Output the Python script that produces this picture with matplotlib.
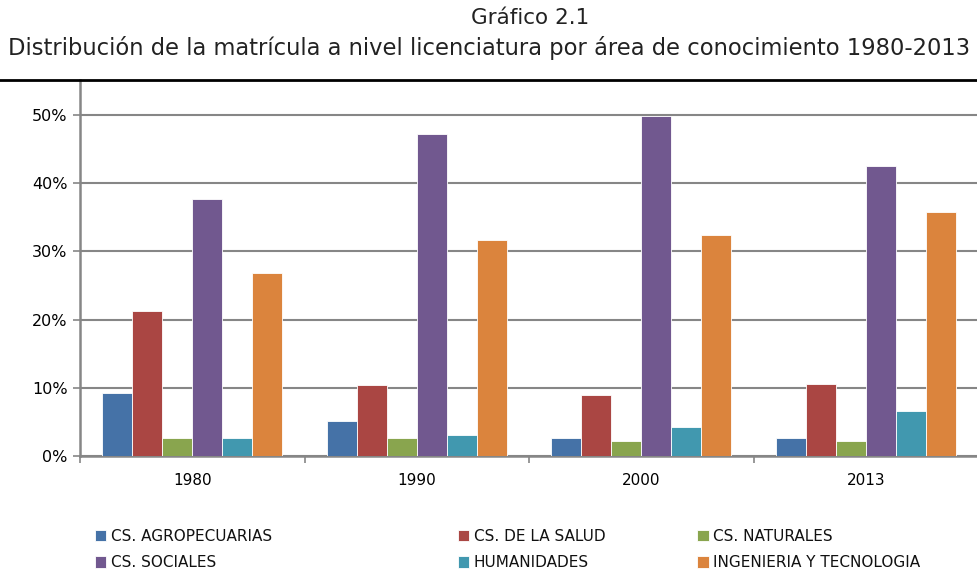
import numpy as np
import matplotlib.pyplot as plt
from matplotlib.lines import Line2D
from matplotlib.ticker import PercentFormatter

years = ["1980", "1990", "2000", "2013"]
areas = ["CS. AGROPECUARIAS", "CS. DE LA SALUD", "CS. NATURALES",
         "CS. SOCIALES", "HUMANIDADES", "INGENIERIA Y TECNOLOGIA"]
agropecuarias = [9.2, 5.2, 2.6, 2.6]
salud = [21.3, 10.4, 8.9, 10.6]
naturales = [2.6, 2.6, 2.2, 2.2]
sociales = [37.7, 47.2, 49.8, 42.5]
humanidades = [2.6, 3.1, 4.3, 6.6]
ingenieria = [26.8, 31.7, 32.4, 35.7]
colors = ["#4572A7", "#AA4643", "#89A54E", "#71588F", "#4198AF", "#DB843D"]

series = [agropecuarias, salud, naturales, sociales, humanidades, ingenieria]

fig = plt.figure(figsize=(9.78, 5.86), dpi=100)
ax = fig.add_axes([0.0818, 0.2218, 0.9182, 0.6417])

x = np.arange(len(years))
w = 0.8 / len(series)
handles = []
for i, (vals, lab, c) in enumerate(zip(series, areas, colors)):
    b = ax.bar(x - 0.4 + w * (i + 0.5), vals, width=w, color=c, label=lab,
               edgecolor="white", linewidth=0.6, zorder=3)
    handles.append(b)

ax.set_xlim(-0.5, len(years) - 0.5)
ax.set_ylim(0, 55.1)
ax.set_yticks(range(0, 51, 10))
ax.yaxis.set_major_formatter(PercentFormatter(decimals=0))
ax.yaxis.grid(True, color="#868686", linewidth=1.5, zorder=0)
ax.set_xticks(x)
ax.set_xticklabels(years)
ax.set_xticks(np.arange(-0.5, len(years)), minor=True)
ax.tick_params(axis="x", which="major", length=0, labelsize=11, pad=12)
ax.tick_params(axis="x", which="minor", length=5, color="#868686", width=1.2)
ax.tick_params(axis="y", length=5, color="#868686", width=1.2, labelsize=11.5, pad=4)

for s in ["top", "right"]:
    ax.spines[s].set_visible(False)
for s in ["left", "bottom"]:
    ax.spines[s].set_color("#868686")
    ax.spines[s].set_linewidth(1.8)

fig.add_artist(Line2D([0, 1], [0.8635, 0.8635], color="black", linewidth=2,
                      transform=fig.transFigure))

fig.text(0.542, 0.969, "Gráfico 2.1", ha="center", va="center", fontsize=15.5,
         color="#222222")
fig.text(0.5, 0.918, "Distribución de la matrícula a nivel licenciatura por área de conocimiento 1980-2013",
         ha="center", va="center", fontsize=16.3, color="#222222")

# three legend columns placed at fixed x positions
col_x = [0.097, 0.468, 0.713]
for k, cx in enumerate(col_x):
    idx = [k, k + 3]
    leg = fig.legend([handles[i] for i in idx], [areas[i] for i in idx],
                     loc="center left", bbox_to_anchor=(cx, 0.062),
                     frameon=False, fontsize=11, handlelength=0.75,
                     handleheight=0.75, handletextpad=0.3, labelspacing=0.75,
                     borderpad=0, borderaxespad=0)
    for t in leg.get_texts():
        t.set_color("#111111")

fig.savefig("out.png", dpi=100)
